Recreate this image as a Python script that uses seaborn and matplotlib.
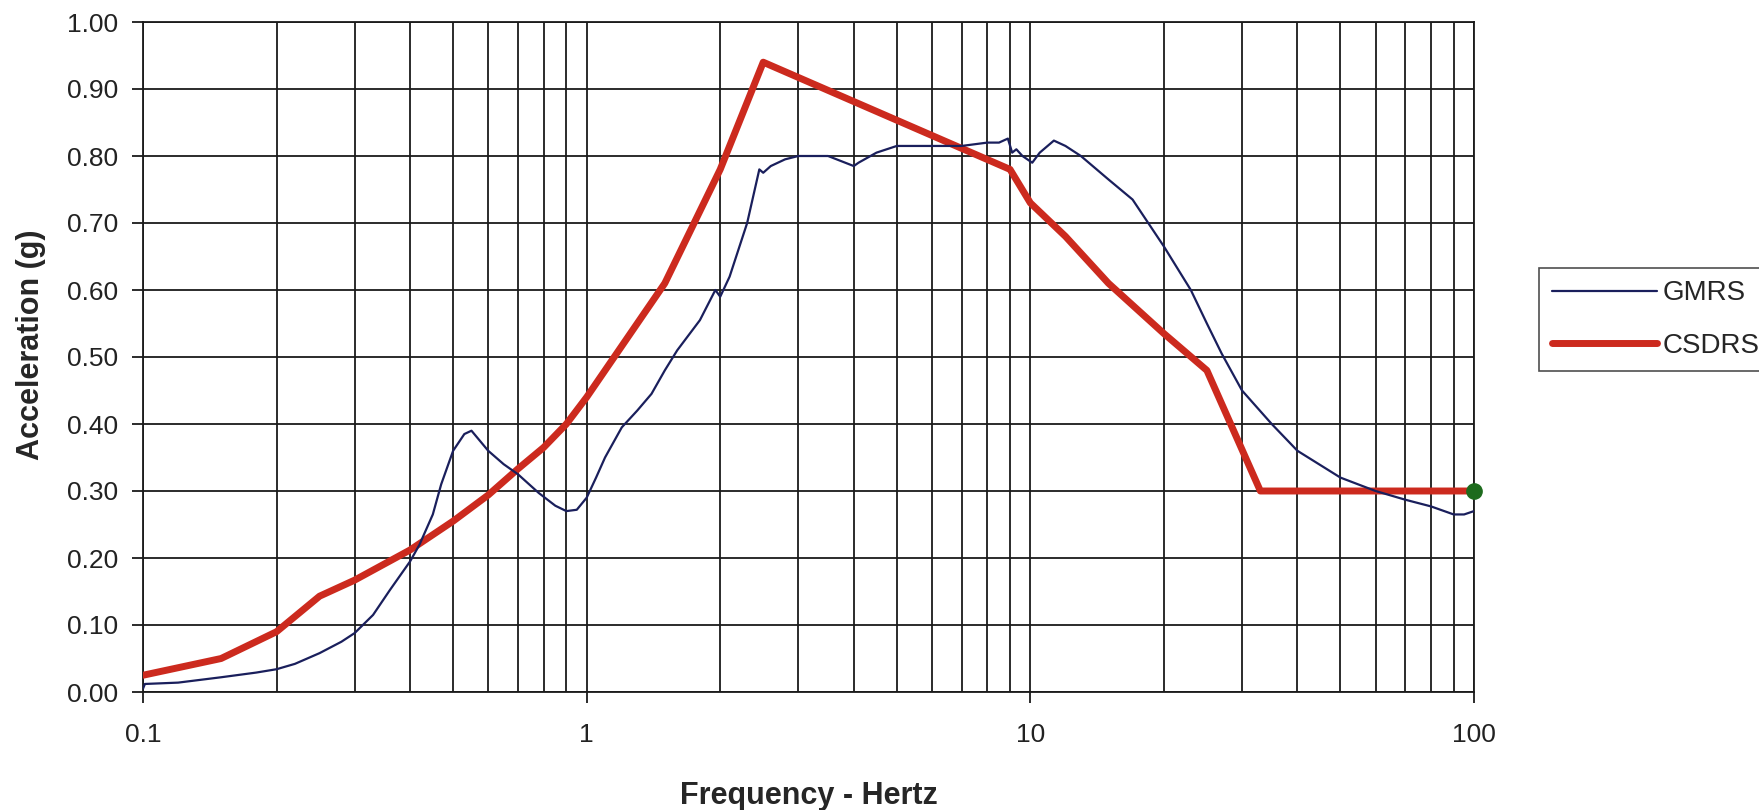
import numpy as np
import pandas as pd
import matplotlib
matplotlib.use("Agg")
import matplotlib.pyplot as plt
import seaborn as sns
from matplotlib.ticker import FixedLocator, FixedFormatter, LogLocator, NullFormatter

# ---- data ----
gmrs_freq = [0.1, 0.101, 0.12, 0.15, 0.18, 0.2, 0.22, 0.25, 0.28, 0.3, 0.33, 0.36, 0.4, 0.42,
             0.45, 0.47, 0.5, 0.53, 0.55, 0.6, 0.65, 0.7, 0.78, 0.85, 0.9, 0.95, 1.0, 1.05,
             1.1, 1.2, 1.3, 1.4, 1.5, 1.6, 1.8, 1.95, 2.0, 2.1, 2.3, 2.45, 2.5, 2.6, 2.8,
             3.0, 3.5, 4.0, 4.1, 4.5, 5.0, 6.0, 7.0, 8.0, 8.5, 8.9, 9.1, 9.3, 9.6, 10.1,
             10.5, 11.3, 12.0, 13.0, 15.0, 17.0, 20.0, 23.0, 25.0, 27.0, 30.0, 35.0, 40.0,
             50.0, 60.0, 70.0, 80.0, 90.0, 95.0, 100.0]
gmrs_acc = [0.005, 0.012, 0.014, 0.022, 0.029, 0.034, 0.042, 0.058, 0.075, 0.088, 0.115,
            0.152, 0.195, 0.22, 0.265, 0.31, 0.36, 0.385, 0.39, 0.36, 0.34, 0.325, 0.297,
            0.278, 0.27, 0.272, 0.29, 0.32, 0.35, 0.395, 0.42, 0.445, 0.48, 0.51, 0.555,
            0.60, 0.59, 0.62, 0.70, 0.78, 0.775, 0.785, 0.795, 0.80, 0.80, 0.785, 0.79,
            0.805, 0.815, 0.815, 0.815, 0.82, 0.82, 0.826, 0.805, 0.81, 0.80, 0.79, 0.805,
            0.823, 0.815, 0.80, 0.765, 0.735, 0.665, 0.60, 0.55, 0.505, 0.45, 0.40, 0.36,
            0.32, 0.30, 0.287, 0.277, 0.265, 0.265, 0.27]

csdrs_freq = [0.1, 0.15, 0.2, 0.25, 0.3, 0.4, 0.5, 0.6, 0.7, 0.8, 0.9, 1.0, 1.5, 2.0, 2.5,
              9.0, 10.0, 12.0, 15.0, 20.0, 25.0, 33.0, 100.0]
csdrs_acc = [0.025, 0.05, 0.09, 0.143, 0.167, 0.212, 0.255, 0.294, 0.333, 0.365, 0.40, 0.44,
             0.61, 0.78, 0.94, 0.78, 0.73, 0.68, 0.61, 0.535, 0.48, 0.30, 0.30]

end_point = (100.0, 0.30)

x_major = [0.1, 1, 10, 100]
x_major_labels = ["0.1", "1", "10", "100"]
y_ticks = [0.0, 0.1, 0.2, 0.3, 0.4, 0.5, 0.6, 0.7, 0.8, 0.9, 1.0]

series_names = ["GMRS", "CSDRS"]

# ---- style ----
sns.set_style("white")
plt.rcParams['font.family'] = ['Liberation Sans', 'DejaVu Sans']

W, H = 1759, 810
fig = plt.figure(figsize=(W / 100, H / 100), dpi=100)
ax = fig.add_axes([143 / W, 1 - 692 / H, (1474 - 143) / W, (692 - 22) / H])

df_g = pd.DataFrame({"freq": gmrs_freq, "acc": gmrs_acc})
df_c = pd.DataFrame({"freq": csdrs_freq, "acc": csdrs_acc})

sns.lineplot(data=df_g, x="freq", y="acc", ax=ax, color="#1a1f5c", linewidth=1.6,
             label=series_names[0], sort=False, estimator=None, zorder=4)
sns.lineplot(data=df_c, x="freq", y="acc", ax=ax, color="#cc2a1e", linewidth=5,
             label=series_names[1], sort=False, estimator=None, zorder=3)
ax.plot([end_point[0]], [end_point[1]], marker="o", color="#1d6b1d", markersize=11,
        zorder=6, clip_on=False, linestyle="none")

ax.set_xscale("log")
ax.set_xlim(0.1, 100)
ax.set_ylim(0, 1.0)

ax.xaxis.set_major_locator(FixedLocator(x_major))
ax.xaxis.set_major_formatter(FixedFormatter(x_major_labels))
ax.xaxis.set_minor_locator(LogLocator(base=10, subs=np.arange(2, 10)))
ax.xaxis.set_minor_formatter(NullFormatter())
ax.set_yticks(y_ticks)
ax.set_yticklabels([f"{v:.2f}" for v in y_ticks])

ax.grid(True, which="major", axis="both", color="#1a1a1a", linewidth=1.3)
ax.grid(True, which="minor", axis="x", color="#1a1a1a", linewidth=1.3)
ax.set_axisbelow(True)

for s in ax.spines.values():
    s.set_color("#1a1a1a")
    s.set_linewidth(1.3)

ax.tick_params(axis="both", which="major", direction="out", length=8, width=1.3,
               color="#1a1a1a", labelsize=19, labelcolor="#222222", left=True, bottom=True)
ax.tick_params(axis="x", which="major", pad=14)
ax.tick_params(axis="y", which="major", pad=10)
ax.tick_params(axis="x", which="minor", length=0)

ax.set_xlabel("Frequency - Hertz", fontsize=22, fontweight="bold", labelpad=25)
ax.set_ylabel("Acceleration (g)", fontsize=22, fontweight="bold")
ax.yaxis.set_label_coords(-0.073, 0.518)

leg = ax.legend(loc="upper left", bbox_to_anchor=(1539 / W, 1 - 268 / H),
                bbox_transform=fig.transFigure, frameon=True,
                fontsize=20, handlelength=3.8, handletextpad=0.2, borderpad=0.45,
                labelspacing=0.95, fancybox=False, borderaxespad=0)
leg.get_frame().set_edgecolor("#222222")
leg.get_frame().set_linewidth(1.2)

fig.savefig("out.png", dpi=100, facecolor="white")
